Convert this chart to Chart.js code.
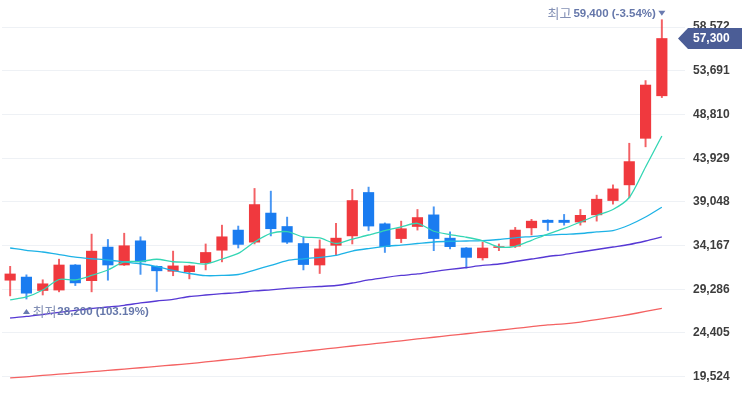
<!DOCTYPE html>
<html>
<head>
<meta charset="utf-8">
<script src="https://cdn.jsdelivr.net/npm/chart.js@4.4.0/dist/chart.umd.min.js"></script>
<style>
  html, body { margin: 0; padding: 0; background: #fff; }
  #wrap { width: 742px; height: 394px; position: relative; }
</style>
</head>
<body>
<div id="wrap"><canvas id="chart"></canvas></div>
<script>
// daily candles
const opens  = [30300, 30650, 29150, 29200, 32000, 30250, 34000, 32000, 34700, 31850,
                31300, 31250, 32250, 33650, 35900, 34550, 37800, 36300, 34400, 32000,
                34200, 35250, 40100, 36600, 34950, 36300, 37600, 35000, 33900, 32800,
                33950, 34100, 36150, 37000, 37000, 36800, 37600, 39200, 40950, 46150, 50900];
const highs  = [31850, 30900, 30350, 32650, 32050, 35450, 34850, 35550, 35150, 31900,
                33550, 31950, 34350, 36450, 36350, 40550, 40250, 37350, 35100, 34800,
                36650, 40450, 40700, 36700, 36900, 38200, 38500, 35700, 33950, 34550,
                34350, 36200, 37100, 37050, 37650, 38200, 39800, 40950, 45600, 52600, 59400];
const lows   = [28550, 28200, 28650, 29000, 29700, 29000, 30300, 31950, 30950, 29050,
                30800, 30450, 31450, 32350, 33900, 34350, 35250, 34400, 31450, 31050,
                33100, 34350, 35850, 33400, 34500, 35900, 33600, 33800, 31650, 32550,
                33600, 33950, 35350, 35850, 36450, 36450, 36900, 38800, 39500, 45200, 50700];
const closes = [31000, 28850, 29900, 32000, 30000, 33550, 32000, 34150, 32350, 31350,
                31900, 31900, 33400, 35150, 34300, 38750, 36050, 34550, 32050, 33800,
                35000, 39200, 36350, 34050, 36050, 37300, 34950, 34050, 32850, 33900,
                34050, 35900, 36900, 36750, 36750, 37550, 39350, 40500, 43550, 52100, 57300];

// moving averages
const ma5   = [28100, 28430, 29210, 30380, 30330, 30830, 31440, 32340, 32390, 32640,
               32360, 32280, 32110, 32670, 33290, 34570, 35520, 35720, 35130, 35020,
               34400, 34900, 35350, 35850, 36250, 36660, 35770, 35390, 35100, 34700,
               34010, 34090, 34760, 35460, 36080, 36800, 37530, 38200, 39540, 42950, 46410];
const ma20  = [33900, 33640, 33450, 33170, 32870, 32700, 32560, 32340, 32140, 31830,
               31390, 31050, 30810, 30830, 30940, 31440, 31950, 32500, 32690, 32860,
               33080, 33560, 33840, 34070, 34230, 34400, 34570, 34650, 34680, 34720,
               34850, 35040, 35180, 35330, 35430, 35520, 35690, 35850, 36470, 37360, 38450];
const ma60  = [26080, 26250, 26470, 26700, 26920, 27140, 27310, 27500, 27760, 27980,
               28150, 28480, 28650, 28800, 28910, 29100, 29230, 29380, 29490, 29600,
               29710, 29990, 30330, 30600, 30830, 31000, 31270, 31500, 31720, 31950,
               32110, 32390, 32670, 32950, 33170, 33450, 33730, 34010, 34290, 34680, 35130];
const ma120 = [19380, 19510, 19660, 19800, 19940, 20080, 20230, 20370, 20520, 20670,
               20830, 20980, 21170, 21360, 21550, 21750, 21950, 22150, 22350, 22550,
               22750, 22950, 23140, 23330, 23530, 23740, 23930, 24130, 24320, 24520,
               24710, 24910, 25110, 25310, 25430, 25630, 25890, 26170, 26470, 26810, 27160];

const yTicks = [19524, 24405, 29286, 34167, 39048, 43929, 48810, 53691, 58572];
const days = closes.map((_, i) => 'D' + (i + 1));

const UP = '#f0393e';
const DOWN = '#1a7cf0';
const isUp = closes.map((c, i) => c >= opens[i]);

const fmt = v => v.toLocaleString('en-US');

// high / low markers and the last price tag
const markerPlugin = {
  id: 'markers',
  afterDraw(chart) {
    const ctx = chart.ctx;
    const xs = chart.scales.x, ys = chart.scales.y;
    const last = closes[closes.length - 1];
    const hiVal = Math.max(...highs), loVal = Math.min(...lows);
    const hiIdx = highs.indexOf(hiVal), loIdx = lows.indexOf(loVal);
    const numFont = 'bold 11.5px "Liberation Sans", Arial, sans-serif';
    const krFont = '13px "Noto Sans CJK KR", sans-serif';
    ctx.save();
    ctx.textBaseline = 'middle';

    // high
    let px = xs.getPixelForValue(hiIdx);
    let py = ys.getPixelForValue(hiVal) - 6;
    ctx.fillStyle = '#6a7bb0';
    ctx.beginPath();
    ctx.moveTo(px - 3.5, py - 3);
    ctx.lineTo(px + 3.5, py - 3);
    ctx.lineTo(px, py + 2);
    ctx.closePath();
    ctx.fill();
    const hiPct = ((last / hiVal - 1) * 100).toFixed(2);
    const hiTxt = fmt(hiVal) + ' (' + hiPct + '%)';
    ctx.font = numFont;
    ctx.textAlign = 'right';
    ctx.fillStyle = '#6577aa';
    const tx = px - 6;
    ctx.fillText(hiTxt, tx, py);
    const w1 = ctx.measureText(hiTxt).width;
    ctx.font = krFont;
    ctx.fillStyle = '#8390b5';
    ctx.fillText('최고', tx - w1 - 2, py - 1);

    // low
    px = xs.getPixelForValue(loIdx);
    py = ys.getPixelForValue(loVal) + 13;
    ctx.fillStyle = '#6a7bb0';
    ctx.beginPath();
    ctx.moveTo(px, py - 3);
    ctx.lineTo(px + 3.5, py + 2);
    ctx.lineTo(px - 3.5, py + 2);
    ctx.closePath();
    ctx.fill();
    ctx.textAlign = 'left';
    ctx.font = krFont;
    ctx.fillStyle = '#8390b5';
    ctx.fillText('최저', px + 6, py - 1);
    const w2 = ctx.measureText('최저').width;
    const loPct = ((last / loVal - 1) * 100).toFixed(2);
    ctx.font = numFont;
    ctx.fillStyle = '#6577aa';
    ctx.fillText(fmt(loVal) + ' (' + loPct + '%)', px + 6 + w2 + 1, py);

    // last price tag
    const ty = ys.getPixelForValue(last);
    const left = chart.chartArea.right + 8;
    ctx.fillStyle = '#4b5d96';
    ctx.beginPath();
    ctx.moveTo(left, ty);
    ctx.lineTo(left + 10, ty - 10.5);
    ctx.lineTo(chart.width, ty - 10.5);
    ctx.lineTo(chart.width, ty + 10.5);
    ctx.lineTo(left + 10, ty + 10.5);
    ctx.closePath();
    ctx.fill();
    ctx.fillStyle = '#fff';
    ctx.font = 'bold 12px "Liberation Sans", Arial, sans-serif';
    ctx.textAlign = 'left';
    ctx.fillText(fmt(last), chart.chartArea.right + 23, ty + 0.5);
    ctx.restore();
  }
};

const maLine = (label, data, color) => ({
  type: 'line', label: label, data: data,
  borderColor: color, borderWidth: 1.3, pointRadius: 0,
  tension: 0.25, order: 0
});

new Chart(document.getElementById('chart'), {
  data: {
    labels: days,
    datasets: [
      maLine('MA5', ma5, '#34d6b4'),
      maLine('MA20', ma20, '#1db2e6'),
      maLine('MA60', ma60, '#5638d4'),
      maLine('MA120', ma120, '#f46262'),
      {
        type: 'bar', label: 'body',
        data: opens.map((o, i) => [o, closes[i]]),
        backgroundColor: isUp.map(u => u ? UP : DOWN),
        barThickness: 10.5, grouped: false, order: 4
      },
      {
        type: 'bar', label: 'wick',
        data: lows.map((l, i) => [l, highs[i]]),
        backgroundColor: isUp.map(u => u ? 'rgba(240,57,62,0.8)' : 'rgba(26,124,240,0.8)'),
        barThickness: 1.3, grouped: false, order: 5
      }
    ]
  },
  options: {
    responsive: true,
    maintainAspectRatio: false,
    animation: false,
    layout: { padding: { left: 2, right: 0, top: 0, bottom: 0 } },
    plugins: { legend: { display: false }, tooltip: { enabled: false } },
    scales: {
      x: { type: 'category', display: false, offset: true },
      y: {
        position: 'right',
        min: 17590,
        max: 61600,
        afterBuildTicks: s => { s.ticks = yTicks.map(v => ({ value: v })); },
        afterFit: s => { s.width = 72; s.paddingTop = 0; s.paddingBottom = 0; },
        border: { display: false },
        grid: { color: '#eef1f5', tickLength: 15 },
        ticks: {
          padding: 8,
          color: '#3d3d3d',
          font: { family: '"Liberation Sans", Arial, sans-serif', size: 12, weight: 'bold' },
          callback: v => fmt(v)
        }
      }
    }
  },
  plugins: [markerPlugin]
});
</script>
</body>
</html>
